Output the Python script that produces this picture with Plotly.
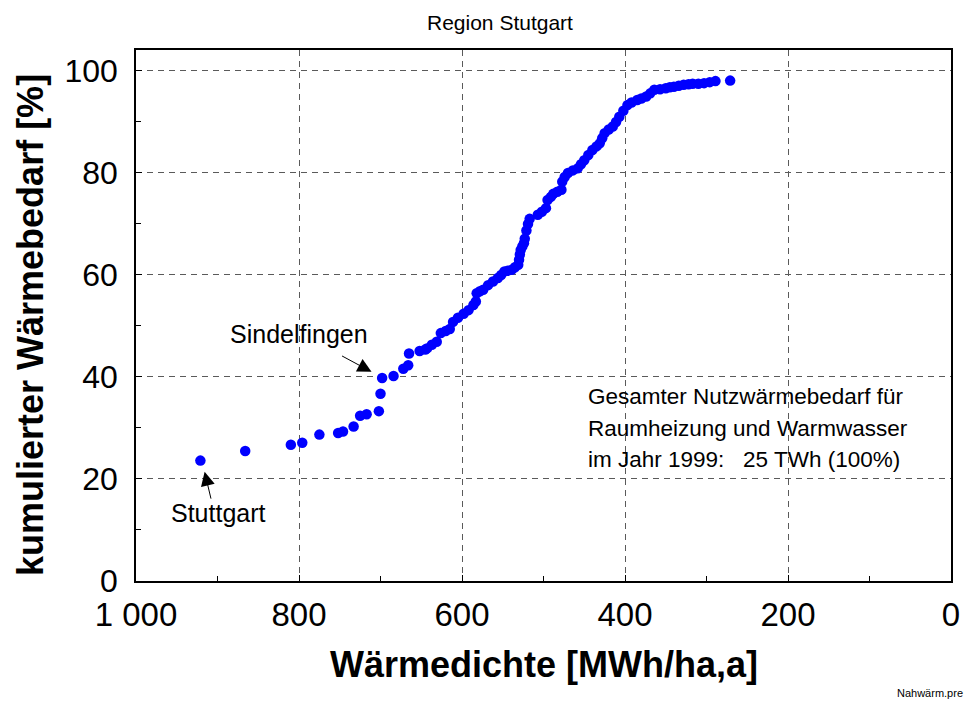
import plotly.graph_objects as go

# Wärmedichte [MWh/ha,a] and kumulierter Wärmebedarf [%]
density = [921, 866, 810, 796, 775, 752, 746, 733, 725, 717, 702, 700, 698, 684,
           672, 666, 665, 652, 645, 643, 637, 631, 626, 620, 615, 611, 605, 598, 592,
           586, 583, 582, 578, 574, 568, 562, 556, 552, 548, 544, 539, 535, 531, 530, 529,
           528, 526, 524, 523, 521, 519, 517, 507, 502, 497, 495, 491, 488, 483, 478, 477,
           474, 470, 464, 458, 454, 450, 445, 440, 435, 431, 428, 425, 420, 415, 411, 407,
           402, 397, 392, 385, 380, 374, 369, 364, 357, 350, 345, 340, 334, 328, 322, 317,
           310, 303, 296, 289, 271]
cumulative = [23.6, 25.5, 26.7, 27.1, 28.7, 29.0, 29.3, 30.3, 32.4, 32.7, 33.3, 36.7, 39.8, 40.2,
              41.6, 42.3, 44.6, 45.1, 45.4, 45.6, 46.3, 46.9, 48.6, 49.0, 49.4, 50.8, 51.6, 52.4, 53.1,
              54.1, 54.8, 56.4, 56.8, 57.1, 58.0, 58.7, 59.4, 60.0, 60.7, 60.8, 61.0, 61.5, 62.0, 63.0, 64.0,
              64.9, 65.6, 66.2, 67.1, 68.7, 70.0, 71.0, 71.8, 72.4, 73.1, 74.7, 75.3, 75.9, 76.3, 76.7, 78.3,
              79.2, 80.0, 80.5, 80.9, 81.7, 82.5, 83.5, 84.5, 85.2, 85.8, 86.8, 87.8, 88.5, 89.1, 90.0, 91.0,
              92.2, 93.3, 93.8, 94.3, 94.6, 95.0, 95.6, 96.3, 96.4, 96.6, 96.8, 96.9, 97.1, 97.3, 97.4, 97.5,
              97.5, 97.6, 97.8, 98.0, 98.1]

x_tickvals = [1000, 800, 600, 400, 200, 0]
x_ticktext = ["1 000", "800", "600", "400", "200", "0"]
y_tickvals = [0, 20, 40, 60, 80, 100]

title_text = "Region Stutgart"
x_title = "Wärmedichte [MWh/ha,a]"
y_title = "kumulierter Wärmebedarf [%]"
info_lines = ["Gesamter Nutzwärmebedarf für",
              "Raumheizung und Warmwasser",
              "im Jahr 1999:\u00a0\u00a0\u00a025 TWh (100%)"]
footer = "Nahwärm.pre"

FONT = "Liberation Sans, Arial, sans-serif"

fig = go.Figure()
fig.add_trace(go.Scatter(
    x=density, y=cumulative, mode="markers",
    marker=dict(color="#0000ff", size=10.5, line=dict(width=0)),
    showlegend=False, hoverinfo="x+y"))

grid = dict(showgrid=True, gridcolor="#5a5a5a", gridwidth=1.2, griddash="6px,5px")

fig.update_xaxes(
    range=[1000, 0], tickvals=x_tickvals, ticktext=x_ticktext,
    ticks="inside", ticklen=6, tickcolor="black",
    showline=True, linecolor="black", linewidth=1.5, mirror=True,
    tickfont=dict(family=FONT, size=33, color="black"),
    minor=dict(dtick=100, tick0=0, ticks="inside", ticklen=5, tickcolor="black", showgrid=False),
    zeroline=False, ticklabelstandoff=4, **grid)
fig.update_yaxes(
    range=[0, 104.1], tickvals=y_tickvals,
    ticks="inside", ticklen=6, tickcolor="black",
    showline=True, linecolor="black", linewidth=1.5, mirror=True,
    tickfont=dict(family=FONT, size=32, color="black"),
    minor=dict(dtick=10, tick0=0, ticks="inside", ticklen=5, tickcolor="black", showgrid=False),
    zeroline=False, ticklabelstandoff=10, **grid)

ann = []
ann.append(dict(text=title_text, xref="paper", yref="paper", x=(502 - 136) / 819, y=1,
                yshift=28, xanchor="center", yanchor="middle", showarrow=False,
                font=dict(family=FONT, size=21, color="black")))
ann.append(dict(text="<b>" + x_title + "</b>", xref="paper", yref="paper", x=0.5, y=0,
                yshift=-83, xanchor="center", yanchor="middle", showarrow=False,
                font=dict(family=FONT, size=36, color="black")))
ann.append(dict(text="<b>" + y_title + "</b>", xref="paper", yref="paper", x=0, y=(581 - 325) / 531,
                xshift=-106, xanchor="center", yanchor="middle", textangle=-90, showarrow=False,
                font=dict(family=FONT, size=36, color="black")))
for i, line in enumerate(info_lines):
    ann.append(dict(text=line, xref="x", yref="y", x=448, y=(581 - (397 + 31.5 * i)) / 5.1,
                    xanchor="left", yanchor="middle", align="left", showarrow=False,
                    font=dict(family=FONT, size=22.5, color="black")))
# Sindelfingen
ann.append(dict(text="Sindelfingen", xref="x", yref="y", x=698, y=39.8,
                showarrow=False, xshift=301 - 383.7, yshift=-(334 - 378),
                xanchor="center", yanchor="middle",
                font=dict(family=FONT, size=25, color="black")))
ann.append(dict(text="", xref="x", yref="y", x=711, y=41.0, ax=-31, ay=-16.7,
                showarrow=True, arrowhead=2, arrowsize=2.8, arrowwidth=1, arrowcolor="black"))
# Stuttgart
ann.append(dict(text="Stuttgart", xref="x", yref="y", x=898.6, y=13.3,
                xanchor="center", yanchor="middle", showarrow=False,
                font=dict(family=FONT, size=25, color="black")))
ann.append(dict(text="", xref="x", yref="y", x=915.8, y=21.4, ax=6.7, ay=28.3,
                showarrow=True, arrowhead=2, arrowsize=2.8, arrowwidth=1, arrowcolor="black"))
ann.append(dict(text=footer, xref="paper", yref="paper", x=(899 - 136) / 819, y=0, yshift=-112,
                xanchor="left", yanchor="middle", showarrow=False,
                font=dict(family=FONT, size=11, color="black")))

fig.update_layout(
    width=972, height=701,
    margin=dict(l=136, r=17, t=50, b=120),
    paper_bgcolor="white", plot_bgcolor="white",
    font=dict(family=FONT, color="black"),
    annotations=ann)

fig.write_html("out.html", config={"displayModeBar": False},
               post_script="document.body.style.margin='0';document.body.style.overflow='hidden';")
